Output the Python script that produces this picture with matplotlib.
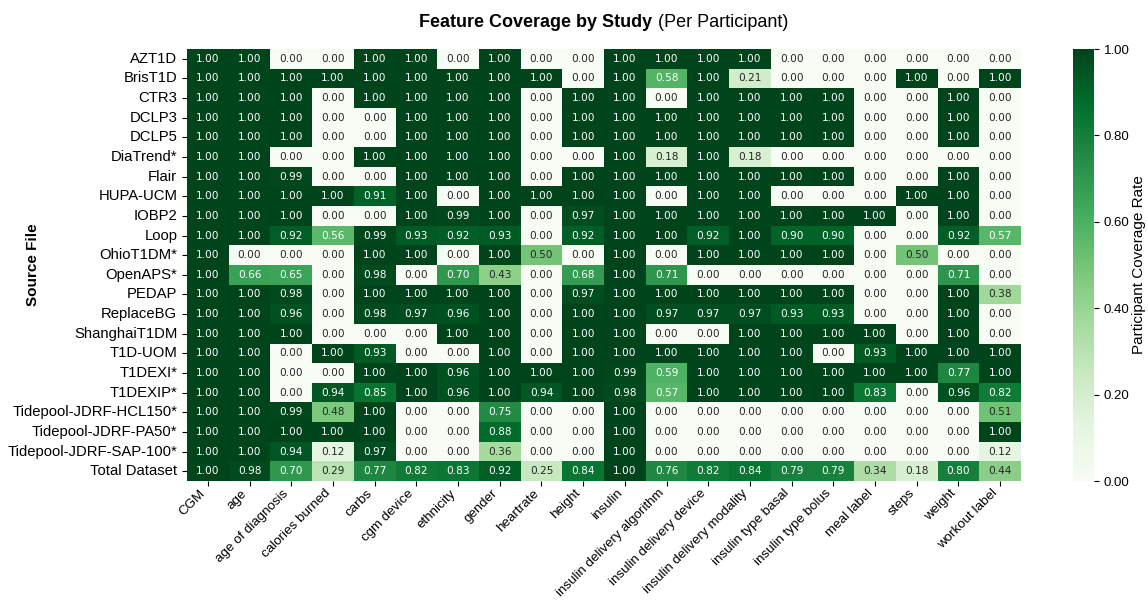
import numpy as np
import pandas as pd
import seaborn as sns
import matplotlib
matplotlib.use("Agg")
import matplotlib.pyplot as plt

features = ['CGM', 'age', 'age of diagnosis', 'calories burned', 'carbs', 'cgm device',
            'ethnicity', 'gender', 'heartrate', 'height', 'insulin',
            'insulin delivery algorithm', 'insulin delivery device',
            'insulin delivery modality', 'insulin type basal', 'insulin type bolus',
            'meal label', 'steps', 'weight', 'workout label']

studies = ['AZT1D', 'BrisT1D', 'CTR3', 'DCLP3', 'DCLP5', 'DiaTrend*', 'Flair', 'HUPA-UCM',
           'IOBP2', 'Loop', 'OhioT1DM*', 'OpenAPS*', 'PEDAP', 'ReplaceBG', 'ShanghaiT1DM',
           'T1D-UOM', 'T1DEXI*', 'T1DEXIP*', 'Tidepool-JDRF-HCL150*', 'Tidepool-JDRF-PA50*',
           'Tidepool-JDRF-SAP-100*', 'Total Dataset']

azt1d = [1, 1, 0, 0, 1, 1, 0, 1, 0, 0, 1, 1, 1, 1, 0, 0, 0, 0, 0, 0]
brist1d = [1, 1, 1, 1, 1, 1, 1, 1, 1, 0, 1, 0.58, 1, 0.21, 0, 0, 0, 1, 0, 1]
ctr3 = [1, 1, 1, 0, 1, 1, 1, 1, 0, 1, 1, 0, 1, 1, 1, 1, 0, 0, 1, 0]
dclp3 = [1, 1, 1, 0, 0, 1, 1, 1, 0, 1, 1, 1, 1, 1, 1, 1, 0, 0, 1, 0]
dclp5 = [1, 1, 1, 0, 0, 1, 1, 1, 0, 1, 1, 1, 1, 1, 1, 1, 0, 0, 1, 0]
diatrend = [1, 1, 0, 0, 1, 1, 1, 1, 0, 0, 1, 0.18, 1, 0.18, 0, 0, 0, 0, 0, 0]
flair = [1, 1, 0.99, 0, 0, 1, 1, 1, 0, 1, 1, 1, 1, 1, 1, 1, 0, 0, 1, 0]
hupa = [1, 1, 1, 1, 0.91, 1, 0, 1, 1, 1, 1, 0, 1, 1, 0, 0, 0, 1, 1, 0]
iobp2 = [1, 1, 1, 0, 0, 1, 0.99, 1, 0, 0.97, 1, 1, 1, 1, 1, 1, 1, 0, 1, 0]
loop = [1, 1, 0.92, 0.56, 0.99, 0.93, 0.92, 0.93, 0, 0.92, 1, 1, 0.92, 1, 0.90, 0.90, 0, 0, 0.92, 0.57]
ohio = [1, 0, 0, 0, 1, 1, 0, 1, 0.50, 0, 1, 0, 1, 1, 1, 1, 0, 0.50, 0, 0]
openaps = [1, 0.66, 0.65, 0, 0.98, 0, 0.70, 0.43, 0, 0.68, 1, 0.71, 0, 0, 0, 0, 0, 0, 0.71, 0]
pedap = [1, 1, 0.98, 0, 1, 1, 1, 1, 0, 0.97, 1, 1, 1, 1, 1, 1, 0, 0, 1, 0.38]
replacebg = [1, 1, 0.96, 0, 0.98, 0.97, 0.96, 1, 0, 1, 1, 0.97, 0.97, 0.97, 0.93, 0.93, 0, 0, 1, 0]
shanghai = [1, 1, 1, 0, 0, 0, 1, 1, 0, 1, 1, 0, 0, 1, 1, 1, 1, 0, 1, 0]
t1duom = [1, 1, 0, 1, 0.93, 0, 0, 1, 0, 1, 1, 1, 1, 1, 1, 0, 0.93, 1, 1, 1]
t1dexi = [1, 1, 0, 0, 1, 1, 0.96, 1, 1, 1, 0.99, 0.59, 1, 1, 1, 1, 1, 1, 0.77, 1]
t1dexip = [1, 1, 0, 0.94, 0.85, 1, 0.96, 1, 0.94, 1, 0.98, 0.57, 1, 1, 1, 1, 0.83, 0, 0.96, 0.82]
hcl150 = [1, 1, 0.99, 0.48, 1, 0, 0, 0.75, 0, 0, 1, 0, 0, 0, 0, 0, 0, 0, 0, 0.51]
pa50 = [1, 1, 1, 1, 1, 0, 0, 0.88, 0, 0, 1, 0, 0, 0, 0, 0, 0, 0, 0, 1]
sap100 = [1, 1, 0.94, 0.12, 0.97, 0, 0, 0.36, 0, 0, 1, 0, 0, 0, 0, 0, 0, 0, 0, 0.12]
total = [1, 0.98, 0.70, 0.29, 0.77, 0.82, 0.83, 0.92, 0.25, 0.84, 1, 0.76, 0.82, 0.84, 0.79, 0.79, 0.34, 0.18, 0.80, 0.44]

rows = [azt1d, brist1d, ctr3, dclp3, dclp5, diatrend, flair, hupa, iobp2, loop, ohio,
        openaps, pedap, replacebg, shanghai, t1duom, t1dexi, t1dexip, hcl150, pa50,
        sap100, total]

df = pd.DataFrame(rows, index=studies, columns=features)

plt.rcParams['font.family'] = ['Liberation Sans', 'DejaVu Sans']

W, H = 1148, 601
fig = plt.figure(figsize=(W / 100, H / 100), dpi=100)
ax = fig.add_axes([187 / W, 1 - 481 / H, (1021 - 187) / W, 432 / H])
cax = fig.add_axes([1073 / W, 1 - 481 / H, 21 / W, 432 / H])

sns.heatmap(df, ax=ax, cbar_ax=cax, cmap='Greens', vmin=0, vmax=1,
            annot=True, fmt='.2f',
            annot_kws={'fontsize': 7.6, 'family': 'DejaVu Sans'},
            cbar_kws={'format': '%.2f', 'ticks': [0, 0.2, 0.4, 0.6, 0.8, 1.0]})

ax.set_xticklabels(features, rotation=45, ha='right', fontsize=9.6)
ax.tick_params(axis='x', pad=1)
ax.set_yticklabels(studies, rotation=0, fontsize=10.7)
ax.set_xlabel('')
ax.set_ylabel('Source File', fontsize=11, fontweight='bold')
ax.yaxis.set_label_coords((40 - 187) / 834, 0.5)

cax.tick_params(labelsize=9.5)
cax.set_ylabel('Participant Coverage Rate', fontsize=11, labelpad=2)

fig.text(0.568, 0.962, 'Feature Coverage by Study', ha='right', va='center',
         fontsize=13, fontweight='bold')
fig.text(0.573, 0.962, '(Per Participant)', ha='left', va='center', fontsize=13)

fig.savefig('out.png', dpi=100)
